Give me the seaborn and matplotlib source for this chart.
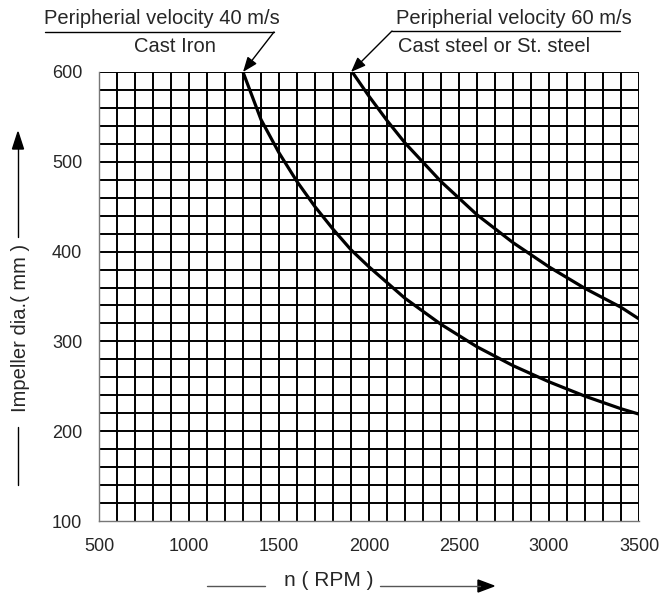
import numpy as np
import pandas as pd
import seaborn as sns
import matplotlib.pyplot as plt
from matplotlib.lines import Line2D

# curve values
rpm_40 = [1300, 1400, 1500, 1600, 1700, 1800, 1900, 2000, 2200, 2400, 2600, 2800, 3000, 3200, 3400, 3500]
dia_40 = [600, 547, 510, 478, 450, 425, 402, 383, 348, 319, 294, 273, 255, 239, 225, 219]
rpm_60 = [1900, 2000, 2100, 2200, 2400, 2600, 2800, 3000, 3200, 3400, 3500]
dia_60 = [602, 573, 546, 521, 478, 441, 410, 383, 359, 338, 325]
labels = ["Peripherial velocity 40 m/s", "Peripherial velocity 60 m/s"]

df = pd.concat([
    pd.DataFrame({"n": rpm_40, "D": dia_40, "curve": labels[0]}),
    pd.DataFrame({"n": rpm_60, "D": dia_60, "curve": labels[1]}),
])

sns.set_style("white")
plt.rcParams['font.family'] = ['Liberation Sans', 'DejaVu Sans']

W, H = 660, 594
fig = plt.figure(figsize=(6.6, 5.94), dpi=100)
ax = fig.add_axes([99 / W, 1 - 521 / H, 540 / W, 449 / H])

sns.lineplot(data=df, x="n", y="D", hue="curve", palette=["black", "black"],
             linewidth=2.3, legend=False, ax=ax, zorder=5)

ax.set_xlim(500, 3500)
ax.set_ylim(100, 600)
ax.set_xticks(np.arange(500, 3501, 500))
ax.set_yticks(np.arange(100, 601, 100))
ax.set_xticks(np.arange(600, 3501, 100), minor=True)
ax.set_yticks(np.arange(120, 601, 20), minor=True)
ax.grid(which="both", color="black", linewidth=1.4)
# no grid line on the axis edges themselves
ax.xaxis.get_gridlines()[0].set_visible(False)
ax.yaxis.get_gridlines()[0].set_visible(False)
ax.tick_params(which="minor", length=0)
ax.tick_params(which="major", length=8, width=1, color="#666666",
               labelsize=13, direction="out", pad=4)
for s in ["top", "right"]:
    ax.spines[s].set_visible(False)
for s in ["left", "bottom"]:
    ax.spines[s].set_color("#777777")
    ax.spines[s].set_linewidth(1)
ax.set_xlabel("")
ax.set_ylabel("")

def fx(px):
    return px / W

def fy(py):
    return 1 - py / H

fs = 14.5
# annotations
fig.text(fx(162), fy(18), labels[0], ha="center", va="center", fontsize=fs)
fig.text(fx(175), fy(47), "Cast Iron", ha="center", va="center", fontsize=fs)
fig.add_artist(Line2D([fx(45), fx(274)], [fy(32), fy(32)], color="black", lw=1))
ax.annotate("", xy=(1300, 600), xycoords="data",
            xytext=(fx(274), fy(32)), textcoords="figure fraction",
            arrowprops=dict(arrowstyle="-|>,head_length=0.9,head_width=0.35",
                            color="black", lw=1, shrinkA=0, shrinkB=0))

fig.text(fx(514), fy(18), labels[1], ha="center", va="center", fontsize=fs)
fig.text(fx(494), fy(47), "Cast steel or St. steel", ha="center", va="center", fontsize=fs)
fig.add_artist(Line2D([fx(392), fx(620)], [fy(31), fy(31)], color="black", lw=1))
ax.annotate("", xy=(1900, 600), xycoords="data",
            xytext=(fx(392), fy(31)), textcoords="figure fraction",
            arrowprops=dict(arrowstyle="-|>,head_length=0.9,head_width=0.35",
                            color="black", lw=1, shrinkA=0, shrinkB=0))

# axis labels with arrows
fig.text(fx(329), fy(581), "n ( RPM )", ha="center", va="center", fontsize=15)
fig.add_artist(Line2D([fx(207), fx(265)], [fy(586), fy(586)], color="#555555", lw=1))
fig.add_artist(Line2D([fx(380), fx(480)], [fy(586), fy(586)], color="#555555", lw=1))
fig.patches.append(plt.Polygon([[fx(478), fy(580)], [fx(494), fy(586)], [fx(478), fy(592)]],
                               closed=True, color="black", transform=fig.transFigure))

fig.text(fx(21), fy(328), "Impeller dia.( mm )", ha="center", va="center",
         rotation=90, fontsize=14.5)
fig.add_artist(Line2D([fx(18), fx(18)], [fy(427), fy(485)], color="black", lw=1))
fig.add_artist(Line2D([fx(18), fx(18)], [fy(237), fy(146)], color="black", lw=1))
fig.patches.append(plt.Polygon([[fx(12.5), fy(149)], [fx(18), fy(132)], [fx(23.5), fy(149)]],
                               closed=True, color="black", transform=fig.transFigure))

fig.savefig("out.png", dpi=100)
